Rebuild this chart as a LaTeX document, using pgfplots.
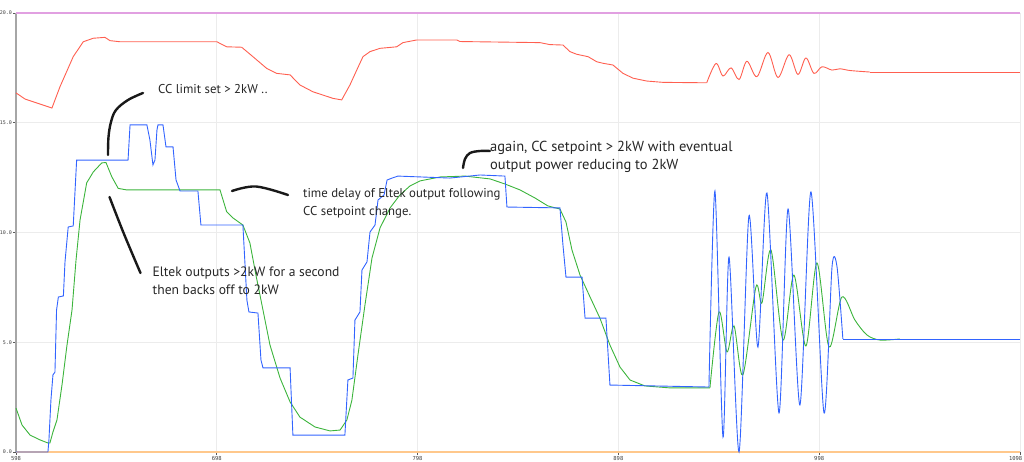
\documentclass[border=0pt]{standalone}
\usepackage{pgfplots}
\pgfplotsset{compat=1.18}
\usepackage{fontspec}
\setmainfont{PT Sans}
\newfontfamily\tickfont{DejaVu Sans Mono}
\definecolor{cred}{RGB}{255,95,80}
\definecolor{cblue}{RGB}{50,100,255}
\definecolor{cgreen}{RGB}{60,180,60}
\definecolor{cpink}{RGB}{225,160,225}
\definecolor{corange}{RGB}{255,200,140}
\definecolor{cgrid}{RGB}{236,236,236}
\begin{document}
\begin{tikzpicture}[x=1pt,y=1pt]
\begin{axis}[at={(16pt,10pt)}, anchor=south west, scale only axis,
  width=1004pt, height=439pt,
  xmin=598, xmax=1098, ymin=0, ymax=20, clip=false,
  axis x line*=bottom, axis y line*=left,
  x axis line style={corange, line width=1.3pt, -},
  y axis line style={black!35, line width=1.6pt, -},
  xtick={598,698,798,898,998},
  xticklabels={598,698,798,898,998},
  extra x ticks={1098}, extra x tick labels={1098},
  extra x tick style={xticklabel style={anchor=north east, xshift=3.5pt}},
  ytick={0,5,10,15,20},
  yticklabels={0.0,5.0,10.0,15.0,20.0},
  grid=major, major grid style={cgrid, line width=0.6pt},
  tick align=outside, major tick length=3pt,
  tick style={black!65, line width=0.6pt},
  xticklabel style={font=\tickfont\fontsize{5.5}{6}\selectfont, text=black!75, inner sep=1pt},
  yticklabel style={font=\tickfont\fontsize{5}{6}\selectfont, text=black!75, inner sep=0.8pt},
]
% top reference line
\addplot[cpink, line width=1.2pt] coordinates {(598,20) (1098,20)};
% red curve
\addplot[cred, line width=0.9pt] coordinates {
(598,16.36) (602.5,16.08) (610,15.85) (615.9,15.67) (619.9,16.64) (626.5,18.01)
(631.5,18.69) (636.5,18.85) (642.3,18.89) (644.8,18.74) (649.8,18.69) (698,18.69)
(702.9,18.46) (710.4,18.44) (716.0,18.01) (722.8,17.48) (727.8,17.25) (734.5,17.18)
(739.4,16.72) (745.9,16.41) (755.9,16.11) (760.2,16.04) (764.3,16.72) (767.7,17.40)
(770.8,18.01) (774.3,18.24) (779.3,18.39) (787.6,18.46) (790.7,18.65) (797.5,18.77)
(817.5,18.77) (819.1,18.70) (859.0,18.65) (863.9,18.56) (870.4,18.54) (873.9,18.24)
(877.2,18.12) (882.9,18.01) (887.2,17.78) (890.3,17.71) (895.3,17.63) (900.3,17.25)
(905.3,17.03) (912.1,16.90) (920.2,16.84) (942.0,16.82)};
\addplot[cred, line width=0.9pt, smooth, tension=0.55] coordinates {
(942.0,16.82) (946.6,17.70) (950.1,17.13) (954.1,17.50) (958.1,16.97) (962.0,17.80)
(967.0,17.10) (972.5,18.20) (977.5,17.06) (983.0,18.10) (987.4,17.20) (991.4,17.95)
(995.4,17.25) (999.4,17.55) (1004.4,17.40) (1008.4,17.46) (1013.3,17.38) (1023.3,17.31)};
\addplot[cred, line width=0.9pt] coordinates {(1023.3,17.31) (1098,17.31)};
% green curve
\addplot[cgreen, line width=0.9pt] coordinates {
(598,2.00) (601.0,1.23) (605.0,0.77) (610.0,0.55) (613.9,0.41) (614.9,0.41)
(616.4,0.91) (618.4,1.46) (620.9,3.05) (623.4,4.87) (625.9,6.47) (627.9,8.75)
(629.9,10.57) (633.2,12.26) (636.5,12.76) (640.7,13.17) (642.8,13.19) (645.7,12.54)
(648.9,12.01) (653.1,11.94) (699.6,11.94) (702.9,10.95) (706.1,10.66) (711.0,10.34)
(714.5,9.52) (717.5,8.06) (721.0,6.47) (724.5,4.87) (729.5,3.37) (734.5,2.28)
(739.4,1.59) (746.9,1.14) (754.4,0.96) (759.4,1.00) (762.8,1.46) (765.3,2.37)
(768.3,4.42) (771.8,6.70) (775.3,8.84) (779.3,10.21) (784.3,11.12) (789.2,11.71)
(794.2,12.12) (799.2,12.35) (809.2,12.53) (821.6,12.57) (834.1,12.44) (841.5,12.21)
(849.0,11.94) (856.5,11.57) (862.9,11.21) (868.9,11.07) (871.9,10.48) (874.9,9.20)
(878.9,8.06) (883.9,7.06) (888.8,6.10) (893.8,4.87) (898.8,3.87) (903.8,3.28)
(911.2,3.01) (923.7,2.92) (943.6,2.92)};
\addplot[cgreen, line width=0.9pt, smooth, tension=0.5] coordinates {
(943.6,2.92) (948.1,6.38) (952.1,4.56) (955.6,5.74) (960.0,3.51) (966.5,7.52)
(969.5,6.79) (974.0,9.20) (980.0,5.10) (985.4,8.06) (991.4,4.83) (996.9,8.61)
(1002.9,4.78) (1009.3,7.06) (1015.8,6.01) (1021.8,5.33) (1028.3,5.10) (1038.2,5.15)};
\addplot[cgreen, line width=0.9pt] coordinates {(1038.2,5.15) (1098,5.15)};
% blue curve
\addplot[cblue, line width=0.9pt] coordinates {
(598,0) (613.9,0) (614.4,0.55) (615.4,2.37) (616.4,3.51) (617.4,3.64) (618.2,6.47)
(619.1,7.06) (621.6,7.11) (622.4,8.66) (624.0,10.25) (626.5,10.30) (628.2,13.30)
(653.8,13.30) (654.8,14.90) (663.2,14.90) (664.7,14.21) (666.2,13.08) (667.2,13.30)
(668.2,14.67) (668.7,14.90) (671.2,14.90) (672.7,13.90) (676.2,13.90) (677.7,12.39)
(679.7,11.89) (688.6,11.89) (690.1,10.34) (711.0,10.34) (713.0,6.92) (714.0,6.38)
(718.5,6.33) (720.0,4.19) (721.0,3.83) (734.5,3.83) (735.9,0.77) (761.8,0.77)
(763.3,3.28) (765.8,3.37) (766.8,6.01) (769.3,6.38) (770.3,8.29) (772.8,8.66)
(774.3,10.02) (776.8,10.34) (778.3,11.48) (781.3,11.71) (782.8,12.39) (785.3,12.48)
(788.2,12.57) (814.1,12.48) (829.1,12.62) (841.5,12.57) (842.5,11.16) (868.9,11.12)
(870.4,9.43) (871.9,7.97) (879.9,7.97) (881.4,6.10) (891.8,6.10) (893.8,3.05)
(943.1,2.96)};
\addplot[cblue, line width=0.9pt, smooth, tension=0.45] coordinates {
(943.1,2.96) (946.1,11.89) (950.1,0.68) (953.1,8.88) (958.1,0.0) (963.0,10.75)
(967.5,4.78) (972.0,11.80) (978.0,1.78) (982.5,11.07) (988.4,2.14) (993.9,11.85)
(1000.4,1.78) (1004.4,8.43) (1006.9,8.43) (1009.8,5.15)};
\addplot[cblue, line width=0.9pt] coordinates {(1009.8,5.15) (1098,5.15)};
\end{axis}
% annotations (picture points: x = pixel, y = 462 - pixel row)
\begin{scope}[line width=2.4pt, line cap=round, black!90]
\draw plot[smooth, tension=0.6] coordinates {(108,307) (108.5,325) (111,340) (116,352) (128,362) (143,369)};
\draw plot[smooth, tension=0.6] coordinates {(232,271) (256,275.5) (288,267)};
\draw plot[smooth, tension=0.6] coordinates {(109.5,265) (124,228) (140.5,189)};
\draw plot[smooth, tension=0.6] coordinates {(463,294) (465,303) (470,309) (480,311) (490,311)};
\end{scope}
\begin{scope}[every node/.style={anchor=base west, inner sep=0pt, font=\fontsize{12.8}{14}\selectfont, text=black!85}]
\node at (158,368) {CC limit set > 2kW ..};
\node at (303,264) {time delay of Eltek output following};
\node at (303,246) {CC setpoint change.};
\node[font=\fontsize{14.5}{16}\selectfont] at (490,310) {again, CC setpoint > 2kW with eventual};
\node[font=\fontsize{14.5}{16}\selectfont] at (490,292) {output power reducing to 2kW};
\node[font=\fontsize{13.6}{15}\selectfont] at (152.5,185) {Eltek outputs >2kW for a second};
\node[font=\fontsize{13.6}{15}\selectfont] at (152.5,167.5) {then backs off to 2kW};
\end{scope}
\pgfresetboundingbox
\path[use as bounding box] (0,0) rectangle (1024,462);
\end{tikzpicture}
\end{document}
